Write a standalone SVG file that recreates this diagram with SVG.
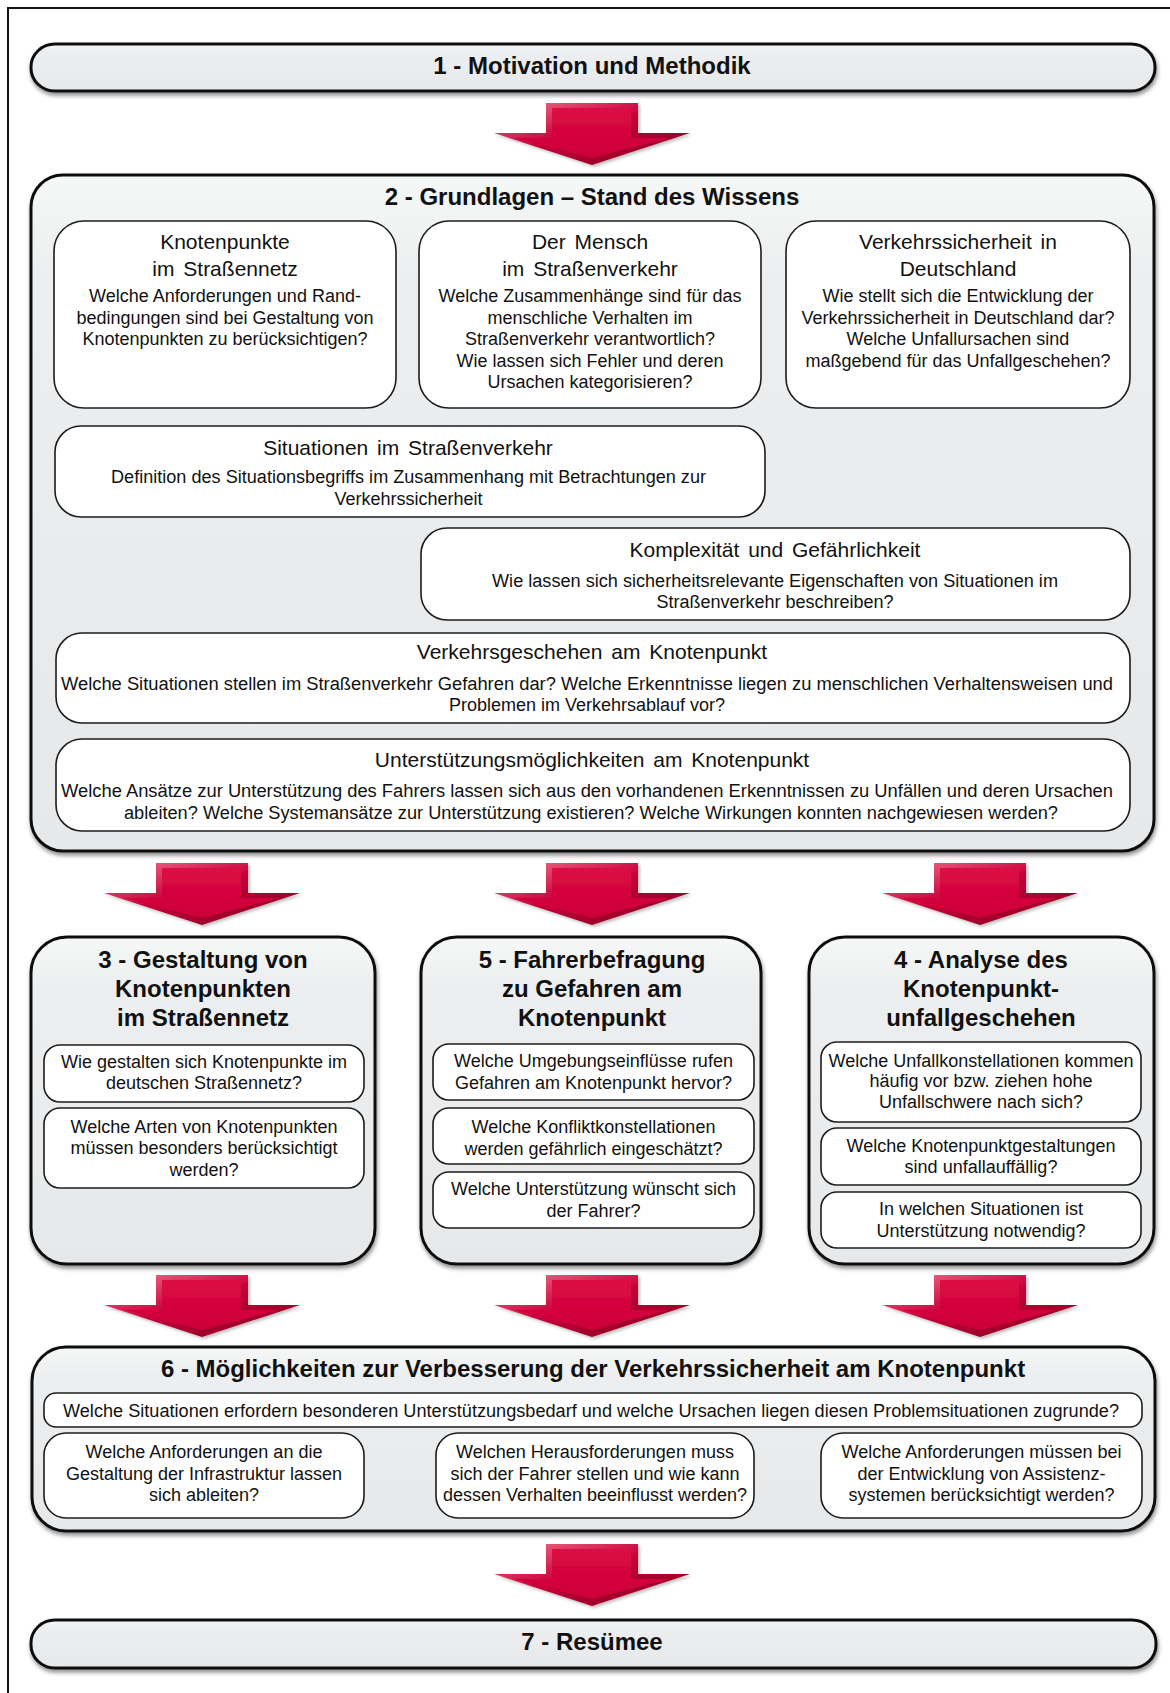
<svg xmlns="http://www.w3.org/2000/svg" xmlns:xlink="http://www.w3.org/1999/xlink" width="1170" height="1693" viewBox="0 0 1170 1693">
  <defs>
    <linearGradient id="gBox" x1="0" y1="0" x2="0" y2="1">
      <stop offset="0" stop-color="#f6f7f7"/>
      <stop offset="0.15" stop-color="#eceeef"/>
      <stop offset="1" stop-color="#e6e8e9"/>
    </linearGradient>
    <linearGradient id="gArrowEdge" x1="0" y1="0" x2="1" y2="1">
      <stop offset="0" stop-color="#f27b92"/>
      <stop offset="0.45" stop-color="#c8003a"/>
      <stop offset="1" stop-color="#7c001e"/>
    </linearGradient>
    <linearGradient id="gArrowFace" x1="0" y1="0" x2="0" y2="1">
      <stop offset="0" stop-color="#dc0a44"/>
      <stop offset="1" stop-color="#cc0038"/>
    </linearGradient>
    <filter id="shBox" x="-5%" y="-10%" width="110%" height="125%">
      <feDropShadow dx="1" dy="3" stdDeviation="2" flood-color="#000" flood-opacity="0.45"/>
    </filter>
    <filter id="shArrow" x="-10%" y="-10%" width="125%" height="130%">
      <feDropShadow dx="2" dy="2" stdDeviation="1.5" flood-color="#000" flood-opacity="0.25"/>
    </filter>
    <!-- bevelled block arrow, centred on x=0, top at y=0 -->
    <g id="arrow" filter="url(#shArrow)">
      <path d="M-46,0 H46 V30 H98 L0,62 L-98,30 H-46 Z" fill="url(#gArrowEdge)"/>
      <path d="M-40,5 H39 V35 H77 L0,55 L-78,35 H-40 Z" fill="url(#gArrowFace)"/>
    </g>
    <style>
      .big { fill: url(#gBox); stroke: #111; stroke-width: 3; filter: url(#shBox); }
      .card { fill: #fff; stroke: #1c1c1c; stroke-width: 1.6; }
      text { font-family: "Liberation Sans", Arial, sans-serif; fill: #111; text-anchor: middle; }
      .h { font-size: 24px; font-weight: bold; }
      .t { font-size: 21px; word-spacing: 3px; }
      .b { font-size: 18px; }
    </style>
  </defs>

  <rect width="1170" height="1693" fill="#fff"/>
  <!-- page frame (left and top edges) -->
  <path d="M8,1693 V8 H1170" fill="none" stroke="#111" stroke-width="2"/>

  <!-- connectors -->
  <g id="connectors">
    <use href="#arrow" x="592" y="103"/>
    <use href="#arrow" x="202" y="863"/>
    <use href="#arrow" x="592" y="863"/>
    <use href="#arrow" x="980" y="863"/>
    <use href="#arrow" x="202" y="1275"/>
    <use href="#arrow" x="592" y="1275"/>
    <use href="#arrow" x="980" y="1275"/>
    <use href="#arrow" x="592" y="1544"/>
  </g>

  <!-- 1 -->
  <g id="n1">
    <rect class="big" x="31" y="44" width="1124" height="47" rx="24" ry="23"/>
    <text class="h" x="592" y="73.5">1 - Motivation und Methodik</text>
  </g>

  <!-- 2 -->
  <g id="n2">
    <rect class="big" x="31" y="175" width="1123" height="676" rx="32"/>
    <text class="h" x="592" y="205">2 - Grundlagen – Stand des Wissens</text>

    <g id="n2a">
      <rect class="card" x="54" y="221" width="342" height="187" rx="30"/>
      <text class="t" x="225" y="249">Knotenpunkte</text>
      <text class="t" x="225" y="276">im Straßennetz</text>
      <text class="b" x="225" y="302">Welche Anforderungen und Rand-</text>
      <text class="b" x="225" y="323.5">bedingungen sind bei Gestaltung von</text>
      <text class="b" x="225" y="345">Knotenpunkten zu berücksichtigen?</text>
    </g>
    <g id="n2b">
      <rect class="card" x="419" y="221" width="342" height="187" rx="30"/>
      <text class="t" x="590" y="249">Der Mensch</text>
      <text class="t" x="590" y="276">im Straßenverkehr</text>
      <text class="b" x="590" y="302">Welche Zusammenhänge sind für das</text>
      <text class="b" x="590" y="323.5">menschliche Verhalten im</text>
      <text class="b" x="590" y="345">Straßenverkehr verantwortlich?</text>
      <text class="b" x="590" y="366.5">Wie lassen sich Fehler und deren</text>
      <text class="b" x="590" y="388">Ursachen kategorisieren?</text>
    </g>
    <g id="n2c">
      <rect class="card" x="786" y="221" width="344" height="187" rx="30"/>
      <text class="t" x="958" y="249">Verkehrssicherheit in</text>
      <text class="t" x="958" y="276">Deutschland</text>
      <text class="b" x="958" y="302">Wie stellt sich die Entwicklung der</text>
      <text class="b" x="958" y="323.5">Verkehrssicherheit in Deutschland dar?</text>
      <text class="b" x="958" y="345">Welche Unfallursachen sind</text>
      <text class="b" x="958" y="366.5">maßgebend für das Unfallgeschehen?</text>
    </g>
    <g id="n2d">
      <rect class="card" x="55" y="426" width="710" height="91" rx="26"/>
      <text class="t" x="408" y="455">Situationen im Straßenverkehr</text>
      <text class="b" x="408.5" y="483" textLength="595" lengthAdjust="spacingAndGlyphs">Definition des Situationsbegriffs im Zusammenhang mit Betrachtungen zur</text>
      <text class="b" x="408.5" y="505">Verkehrssicherheit</text>
    </g>
    <g id="n2e">
      <rect class="card" x="421" y="528" width="709" height="92" rx="26"/>
      <text class="t" x="775" y="557">Komplexität und Gefährlichkeit</text>
      <text class="b" x="775" y="587" textLength="566" lengthAdjust="spacingAndGlyphs">Wie lassen sich sicherheitsrelevante Eigenschaften von Situationen im</text>
      <text class="b" x="775" y="608">Straßenverkehr beschreiben?</text>
    </g>
    <g id="n2f">
      <rect class="card" x="56" y="633" width="1074" height="90" rx="26"/>
      <text class="t" x="592" y="659">Verkehrsgeschehen am Knotenpunkt</text>
      <text class="b" x="587" y="689.5" textLength="1052" lengthAdjust="spacingAndGlyphs">Welche Situationen stellen im Straßenverkehr Gefahren dar? Welche Erkenntnisse liegen zu menschlichen Verhaltensweisen und</text>
      <text class="b" x="587" y="711">Problemen im Verkehrsablauf vor?</text>
    </g>
    <g id="n2g">
      <rect class="card" x="56" y="739" width="1074" height="92" rx="26"/>
      <text class="t" x="592" y="766.5">Unterstützungsmöglichkeiten  am Knotenpunkt</text>
      <text class="b" x="587" y="797" textLength="1052" lengthAdjust="spacingAndGlyphs">Welche Ansätze zur Unterstützung des Fahrers lassen sich aus den vorhandenen Erkenntnissen zu Unfällen und deren Ursachen</text>
      <text class="b" x="591" y="818.5" textLength="934" lengthAdjust="spacingAndGlyphs">ableiten? Welche Systemansätze zur Unterstützung existieren? Welche Wirkungen konnten nachgewiesen werden?</text>
    </g>
  </g>

  <!-- 3 -->
  <g id="n3">
    <rect class="big" x="31" y="937" width="344" height="327" rx="36"/>
    <text class="h" x="203" y="968">3 - Gestaltung von</text>
    <text class="h" x="203" y="997">Knotenpunkten</text>
    <text class="h" x="203" y="1025.5">im Straßennetz</text>
    <rect class="card" x="44" y="1045" width="320" height="57" rx="16"/>
    <text class="b" x="204" y="1067.5">Wie gestalten sich Knotenpunkte im</text>
    <text class="b" x="204" y="1089">deutschen Straßennetz?</text>
    <rect class="card" x="44" y="1108" width="320" height="80" rx="16"/>
    <text class="b" x="204" y="1132.5">Welche Arten von Knotenpunkten</text>
    <text class="b" x="204" y="1154">müssen besonders berücksichtigt</text>
    <text class="b" x="204" y="1175.5">werden?</text>
  </g>

  <!-- 5 -->
  <g id="n5">
    <rect class="big" x="421" y="937" width="340" height="327" rx="36"/>
    <text class="h" x="592" y="968">5 - Fahrerbefragung</text>
    <text class="h" x="592" y="997">zu Gefahren am</text>
    <text class="h" x="592" y="1025.5">Knotenpunkt</text>
    <rect class="card" x="433" y="1044" width="321" height="56" rx="16"/>
    <text class="b" x="593.5" y="1067">Welche Umgebungseinflüsse rufen</text>
    <text class="b" x="593.5" y="1088.5">Gefahren am Knotenpunkt hervor?</text>
    <rect class="card" x="433" y="1108" width="321" height="56" rx="16"/>
    <text class="b" x="593.5" y="1133">Welche Konfliktkonstellationen</text>
    <text class="b" x="593.5" y="1154.5">werden gefährlich eingeschätzt?</text>
    <rect class="card" x="433" y="1172" width="321" height="56" rx="16"/>
    <text class="b" x="593.5" y="1195">Welche Unterstützung wünscht sich</text>
    <text class="b" x="593.5" y="1216.5">der Fahrer?</text>
  </g>

  <!-- 4 -->
  <g id="n4">
    <rect class="big" x="809" y="937" width="345" height="327" rx="36"/>
    <text class="h" x="981" y="968">4 - Analyse des</text>
    <text class="h" x="981" y="997">Knotenpunkt-</text>
    <text class="h" x="981" y="1025.5">unfallgeschehen</text>
    <rect class="card" x="821" y="1042" width="320" height="80" rx="16"/>
    <text class="b" x="981" y="1066.5">Welche Unfallkonstellationen kommen</text>
    <text class="b" x="981" y="1087">häufig vor bzw. ziehen hohe</text>
    <text class="b" x="981" y="1108">Unfallschwere nach sich?</text>
    <rect class="card" x="821" y="1128" width="320" height="57" rx="16"/>
    <text class="b" x="981" y="1151.5">Welche Knotenpunktgestaltungen</text>
    <text class="b" x="981" y="1173">sind unfallauffällig?</text>
    <rect class="card" x="821" y="1192" width="320" height="56" rx="16"/>
    <text class="b" x="981" y="1215">In welchen Situationen ist</text>
    <text class="b" x="981" y="1236.5">Unterstützung notwendig?</text>
  </g>

  <!-- 6 -->
  <g id="n6">
    <rect class="big" x="32" y="1347" width="1123" height="184" rx="34"/>
    <text class="h" x="593" y="1377">6 - Möglichkeiten zur Verbesserung der Verkehrssicherheit am Knotenpunkt</text>
    <rect class="card" x="44" y="1393" width="1098" height="34" rx="12"/>
    <text class="b" x="591" y="1416.5" textLength="1056" lengthAdjust="spacingAndGlyphs">Welche Situationen erfordern besonderen Unterstützungsbedarf und welche Ursachen liegen diesen Problemsituationen zugrunde?</text>
    <rect class="card" x="44" y="1433" width="320" height="85" rx="22"/>
    <text class="b" x="204" y="1458">Welche Anforderungen an die</text>
    <text class="b" x="204" y="1479.5">Gestaltung der Infrastruktur lassen</text>
    <text class="b" x="204" y="1501">sich ableiten?</text>
    <rect class="card" x="436" y="1433" width="318" height="85" rx="22"/>
    <text class="b" x="595" y="1458">Welchen Herausforderungen muss</text>
    <text class="b" x="595" y="1479.5">sich der Fahrer stellen und wie kann</text>
    <text class="b" x="595" y="1501">dessen Verhalten beeinflusst werden?</text>
    <rect class="card" x="821" y="1433" width="321" height="85" rx="22"/>
    <text class="b" x="981.5" y="1458">Welche Anforderungen müssen bei</text>
    <text class="b" x="981.5" y="1479.5">der Entwicklung von Assistenz-</text>
    <text class="b" x="981.5" y="1501">systemen berücksichtigt werden?</text>
  </g>

  <!-- 7 -->
  <g id="n7">
    <rect class="big" x="31" y="1620" width="1125" height="48" rx="24" ry="23"/>
    <text class="h" x="592" y="1650">7 - Resümee</text>
  </g>
</svg>
